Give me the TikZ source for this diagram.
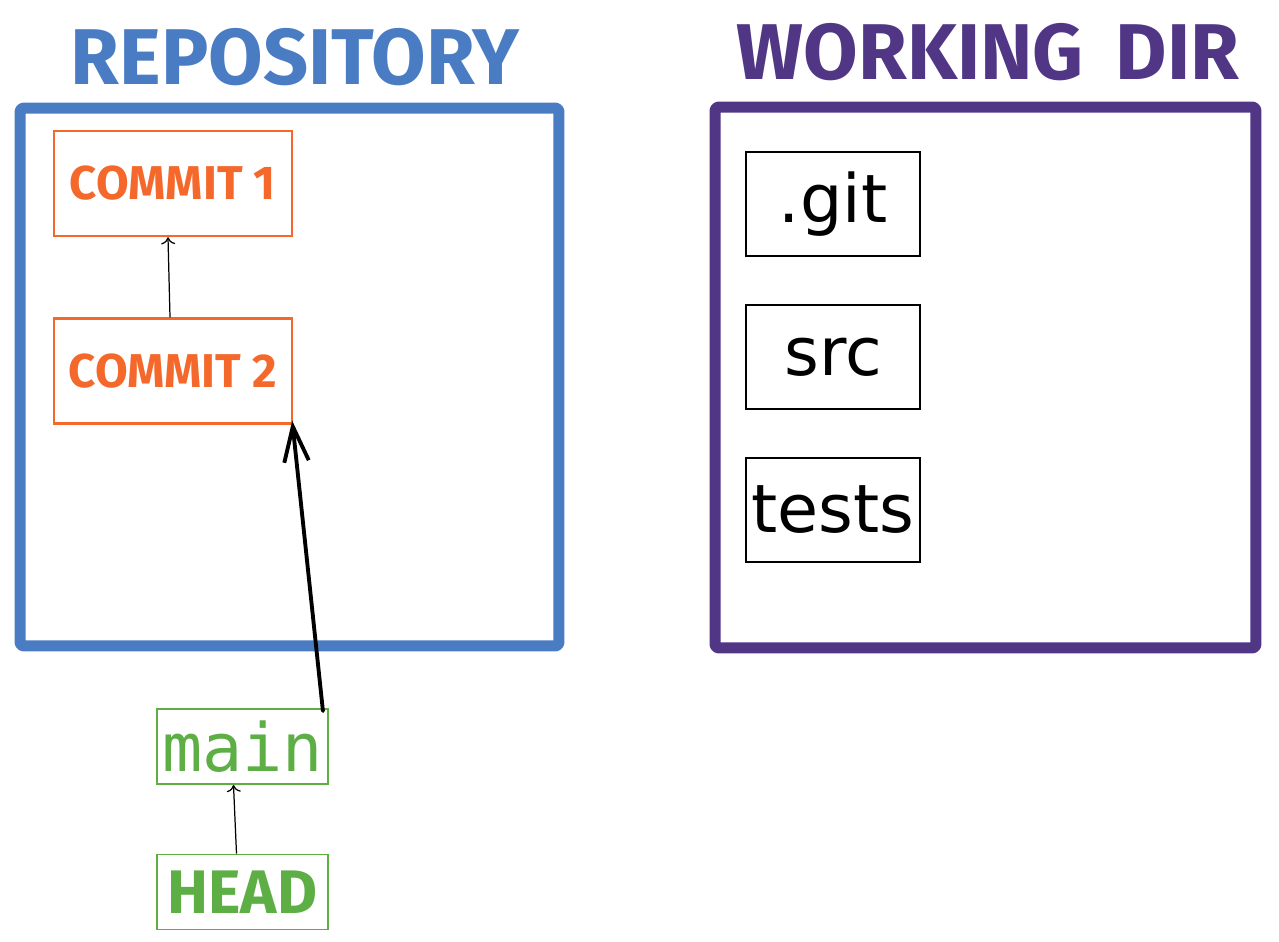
\documentclass[tikz,border=0pt]{standalone}
\usepackage{fontspec}
\setmainfont{DejaVu Sans}
\newfontfamily\titlefont{Fira Sans}
\newfontfamily\branchfont{DejaVu Sans Mono}
\usetikzlibrary{arrows.meta,calc}

\definecolor{repoblue}{RGB}{74,124,196}
\definecolor{dirpurple}{RGB}{80,54,132}
\definecolor{commitorange}{RGB}{244,105,43}
\definecolor{refgreen}{RGB}{93,174,69}

\tikzset{
	bigbox/.style={draw, line width=6.3pt, rounded corners=2pt, line join=round, inner sep=0pt},
	titletext/.style={font=\titlefont\bfseries\fontsize{45}{45}\selectfont},
	commitbox/.style={draw=commitorange, line width=1.4pt, text=commitorange, minimum width=4.76cm, minimum height=2.1cm, inner sep=0pt, font=\titlefont\bfseries\fontsize{27}{27}\selectfont},
	filebox/.style={draw=black, line width=1.3pt, minimum width=3.48cm, minimum height=2.08cm, inner sep=0pt, font=\fontsize{38}{38}\selectfont},
	refbox/.style={draw=refgreen, line width=1.1pt, text=refgreen, minimum width=3.42cm, minimum height=1.5cm, inner sep=0pt},
	thinarrow/.style={-{To[length=4pt,width=8pt]}, line width=0.7pt},
	bigarrow/.style={-{Straight Barb[length=20pt,width=14pt]}, line width=2.2pt, line cap=round}
}

\begin{document}
\begin{tikzpicture}[x=0.02cm, y=-0.02cm]
			%%%%% START %%%%%
			\useasboundingbox (0, 0) rectangle (1279, 941);
			
			% repository side
			\node[titletext, text=repoblue] (repotitle) at (295, 57) {REPOSITORY};
			\node[bigbox, draw=repoblue, minimum width=10.78cm, minimum height=10.76cm] (repo) at (289.5, 377) {};
			
			\node[commitbox] (c1) at (173, 183.5) {COMMIT 1};
			\node[commitbox] (c2) at (173, 371) {COMMIT 2};
			\draw[thinarrow] ($(c2.north)+(-3, 0)$) -- ($(c1.south)+(-5, 0)$);
			
			% branch and head
			\node[refbox, font=\branchfont\fontsize{38}{38}\selectfont] (main) at (242.5, 746.5) {main};
			\node[refbox, font=\titlefont\bfseries\fontsize{35}{35}\selectfont] (head) at (242.5, 892) {HEAD};
			\draw[bigarrow] ($(main.north east)+(-6, 3)$) -- ($(c2.south east)+(-1, -4)$);
			\draw[thinarrow] ($(head.north)+(-6, 0)$) -- ($(main.south)+(-9, 0)$);
			
			% working directory side
			\node[titletext, text=dirpurple] (dirtitle) at (988, 52) {WORKING\hspace{0.4em}DIR};
			\node[bigbox, draw=dirpurple, minimum width=10.82cm, minimum height=10.82cm] (wdir) at (985.5, 377.5) {};
			
			\node[filebox] (git) at (833, 204) {.git};
			\node[filebox] (src) at (833, 357) {src};
			\node[filebox] (tests) at (833, 510) {tests};
			%%%%% END %%%%%
		\end{tikzpicture}
\end{document}
